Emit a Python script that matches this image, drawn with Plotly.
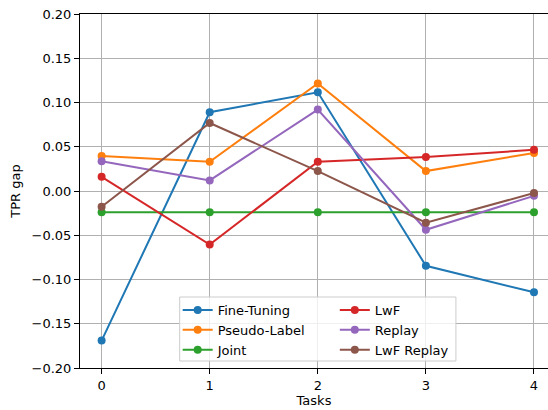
import plotly.graph_objects as go

tasks = [0, 1, 2, 3, 4]
series_names = ["Fine-Tuning", "Pseudo-Label", "Joint", "LwF", "Replay", "LwF Replay"]
fine_tuning = [-0.169, 0.089, 0.1115, -0.0845, -0.1145]
pseudo_label = [0.0395, 0.033, 0.1215, 0.0225, 0.043]
joint = [-0.024, -0.024, -0.024, -0.024, -0.024]
lwf = [0.016, -0.0605, 0.033, 0.0385, 0.0465]
replay = [0.0335, 0.012, 0.092, -0.0438, -0.0055]
lwf_replay = [-0.0178, 0.0768, 0.0225, -0.0358, -0.0023]
y_ticks = [-0.20, -0.15, -0.10, -0.05, 0.00, 0.05, 0.10, 0.15, 0.20]

values = [fine_tuning, pseudo_label, joint, lwf, replay, lwf_replay]
colors = ["#1f77b4", "#ff7f0e", "#2ca02c", "#d62728", "#9467bd", "#8c564b"]
legend_ids = ["legend", "legend", "legend", "legend2", "legend2", "legend2"]

W, H = 548, 410
L, R, T, B = 80.4, 0, 14, 42
pw = W - L - R
ph = H - T - B

fig = go.Figure()
for name, vals, col, lg in zip(series_names, values, colors, legend_ids):
    fig.add_trace(go.Scatter(
        x=tasks, y=vals, name=name, mode="lines+markers",
        line=dict(color=col, width=2),
        marker=dict(color=col, size=8),
        legend=lg,
    ))

def px_x(p):
    return (p - L) / pw

def px_y(p):
    return (H - B - p) / ph

fig.add_shape(type="rect", xref="paper", yref="paper",
              x0=px_x(180), x1=px_x(456), y0=px_y(361), y1=px_y(297),
              line=dict(color="#cccccc", width=1),
              fillcolor="rgba(255,255,255,0.8)", layer="above")

axis_font = dict(family="DejaVu Sans", size=13, color="#000000")
fig.update_layout(
    width=W, height=H,
    margin=dict(l=L, r=R, t=T, b=B, pad=0),
    paper_bgcolor="white", plot_bgcolor="white",
    font=dict(family="DejaVu Sans", size=13, color="#000000"),
    legend=dict(x=px_x(178), y=px_y(295), xanchor="left", yanchor="top",
                bgcolor="rgba(0,0,0,0)", borderwidth=0,
                font=dict(family="DejaVu Sans", size=13, color="#000000"),
                tracegroupgap=0, itemwidth=30),
    legend2=dict(x=px_x(335), y=px_y(295), xanchor="left", yanchor="top",
                 bgcolor="rgba(0,0,0,0)", borderwidth=0,
                 font=dict(family="DejaVu Sans", size=13, color="#000000"),
                 tracegroupgap=0, itemwidth=30),
    xaxis=dict(
        range=[-0.2, 4.2 - 7.6 / 108],
        tickmode="array", tickvals=tasks, ticktext=[str(t) for t in tasks],
        showgrid=True, gridcolor="#b0b0b0", gridwidth=1,
        showline=True, linecolor="#000000", linewidth=1, mirror=True,
        ticks="outside", ticklen=5, tickcolor="#000000", tickwidth=1,
        zeroline=False, tickfont=axis_font,
        title=dict(text="Tasks", font=axis_font, standoff=4),
    ),
    yaxis=dict(
        range=[-0.2, 0.2],
        tickmode="array", tickvals=y_ticks,
        ticktext=[("\u2212" if v < 0 else "") + f"{abs(v):.2f}" for v in y_ticks],
        showgrid=True, gridcolor="#b0b0b0", gridwidth=1,
        showline=True, linecolor="#000000", linewidth=1, mirror=False,
        ticks="outside", ticklen=5, tickcolor="#000000", tickwidth=1,
        zeroline=False, tickfont=axis_font,
        title=dict(text="TPR gap", font=axis_font, standoff=8),
    ),
)

fig.write_html("out.html", config={"displayModeBar": False},
               post_script="document.body.style.margin='0';")
